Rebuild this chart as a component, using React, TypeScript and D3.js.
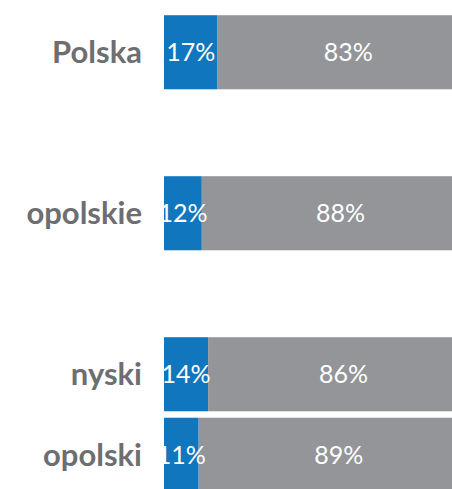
import React, { useEffect, useRef } from 'react';
import * as d3 from 'd3';

// region names and the row slot they sit in (slots 1 and 3 are left empty)
const categories = ['Polska', 'opolskie', 'nyski', 'opolski'];
const rowSlots = [0, 2, 4, 5];
const blueShare = [17, 12, 14, 11];
const greyShare = [83, 88, 86, 89];

const App = () => {
    const chartRef = useRef<SVGSVGElement>(null);

    useEffect(() => {
        const svg = d3.select(chartRef.current);
        svg.selectAll('*').remove();

        const data = categories.map((name, i) => ({
            name,
            slot: rowSlots[i],
            blue: blueShare[i],
            grey: greyShare[i],
        }));

        const x = d3.scaleLinear().domain([0, 100]).range([164, 479]);
        const y = d3.scaleBand<number>()
            .domain(d3.range(6))
            .range([12, 495])
            .paddingInner(0.08)
            .paddingOuter(0.04);

        const rows = svg.selectAll('g.row')
            .data(data)
            .enter()
            .append('g')
            .attr('class', 'row')
            .attr('transform', d => `translate(0, ${y(d.slot)})`);

        const h = y.bandwidth();

        // blue segment
        rows.append('rect')
            .attr('x', x(0))
            .attr('y', 0)
            .attr('width', d => x(d.blue) - x(0))
            .attr('height', h)
            .attr('fill', '#1076BD');

        // grey segment
        rows.append('rect')
            .attr('x', d => x(d.blue))
            .attr('y', 0)
            .attr('width', d => x(d.blue + d.grey) - x(d.blue))
            .attr('height', h)
            .attr('fill', '#939598');

        // category labels
        rows.append('text')
            .attr('x', 142)
            .attr('y', h / 2)
            .attr('dy', '0.36em')
            .attr('text-anchor', 'end')
            .style('font-family', 'Lato, sans-serif')
            .style('font-weight', 'bold')
            .style('font-size', '31px')
            .style('fill', '#6D6E71')
            .text(d => d.name);

        // value labels
        rows.append('text')
            .attr('x', d => (x(0) + x(d.blue)) / 2)
            .attr('y', h / 2)
            .attr('dy', '0.36em')
            .attr('text-anchor', 'middle')
            .style('font-family', 'Lato, sans-serif')
            .style('font-size', '25px')
            .style('fill', '#ffffff')
            .text(d => `${d.blue}%`);

        rows.append('text')
            .attr('x', d => (x(d.blue) + x(d.blue + d.grey)) / 2)
            .attr('y', h / 2)
            .attr('dy', '0.36em')
            .attr('text-anchor', 'middle')
            .style('font-family', 'Lato, sans-serif')
            .style('font-size', '25px')
            .style('fill', '#ffffff')
            .text(d => `${d.grey}%`);
    }, []);

    return (
        <svg
            ref={chartRef}
            width={452}
            height={489}
            style={{ position: 'absolute', left: 0, top: 0, background: '#ffffff' }}
        />
    );
};

export default App;
